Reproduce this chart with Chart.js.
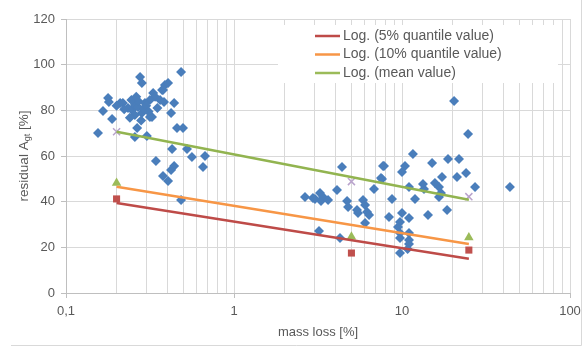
<!DOCTYPE html>
<html>
<head>
<meta charset="utf-8">
<script src="https://cdn.jsdelivr.net/npm/chart.js@4.4.0/dist/chart.umd.min.js"></script>
<style>
  html, body { margin: 0; padding: 0; background: #fff; }
</style>
</head>
<body>
<canvas id="lossChart" width="588" height="349"></canvas>
<script>
// measured samples: mass loss [%] vs residual A_gt [%]
const sampleX = [
    0.276, 0.283, 0.178, 0.180, 0.210, 0.218, 0.166, 0.234, 0.247, 0.257,
    0.268, 0.330, 0.339, 0.316, 0.295, 0.283, 0.257, 0.240, 0.316, 0.188,
    0.265, 0.303, 0.257, 0.155, 0.363, 0.373, 0.484, 0.388, 0.405, 0.378,
    0.383, 0.440, 0.422, 0.325, 0.458, 0.497, 0.428, 0.525, 0.562, 0.672,
    0.343, 0.440, 0.422, 0.654, 0.378, 0.405, 0.484, 0.270, 0.290, 0.300,
    0.245, 0.262, 0.310, 0.280, 0.222, 0.350, 0.200,
    4.394, 4.102, 2.646, 2.951, 3.035, 3.251, 3.388, 3.296, 3.630, 4.710,
    4.775, 5.395, 5.470, 5.862, 6.026, 6.194, 6.367, 6.813, 6.026, 3.206,
    4.275, 7.499, 7.708, 20.41, 24.73, 11.62, 15.10, 18.79, 21.84, 7.814,
    10.42, 10.0, 24.06, 17.30, 21.25, 7.603, 13.33, 15.71, 16.60, 11.01,
    13.52, 17.06, 16.60, 8.716, 11.95, 18.54, 14.28, 10.0, 8.366, 11.01,
    9.727, 9.467, 9.727, 11.01, 9.727, 11.01, 11.01, 10.80, 9.727, 27.21,
    43.9
];
const sampleY = [
    94.6, 92.0, 85.4, 83.7, 83.2, 83.2, 79.7, 81.0, 80.2, 82.3,
    81.5, 87.6, 85.9, 84.5, 83.2, 78.8, 78.0, 76.7, 77.1, 76.2,
    72.3, 68.8, 68.3, 70.1, 84.5, 88.9, 96.8, 91.1, 92.0, 88.9,
    83.7, 83.2, 78.8, 77.1, 72.3, 72.3, 63.1, 63.1, 59.6, 60.0,
    57.8, 55.6, 53.9, 55.2, 51.2, 49.1, 40.7, 84.0, 80.5, 82.0,
    84.5, 86.0, 79.5, 75.5, 80.5, 81.0, 82.0,
    55.2, 45.1, 42.0, 41.6, 41.2, 43.8, 42.0, 40.3, 40.7, 40.3,
    37.7, 36.4, 35.0, 40.7, 38.5, 35.5, 34.2, 45.6, 30.7, 27.2,
    24.1, 50.4, 55.6, 84.1, 69.6, 60.9, 56.9, 58.7, 58.7, 55.6,
    55.6, 53.0, 52.6, 50.8, 50.8, 49.9, 47.7, 48.2, 46.4, 46.4,
    45.6, 43.8, 42.0, 41.2, 41.2, 36.4, 34.2, 35.0, 33.3, 32.9,
    31.1, 28.9, 26.3, 26.3, 24.1, 23.2, 21.5, 19.3, 17.5, 46.4,
    46.4
];

// quantile and mean values at the three mass loss levels
const levelX = [0.2, 5, 25];
const q5Values = [41.2, 17.5, 18.8];
const q10Values = [48.2, 24.6, 24.3];
const meanValues = [70.6, 48.8, 42.2];

// logarithmic trend lines, read at both ends
const trendX = [0.2, 25];
const trend5 = [39.4, 15.0];
const trend10 = [46.5, 21.5];
const trendMean = [70.6, 40.8];

const legendLabels = ['Log. (5% quantile value)', 'Log. (10% quantile value)', 'Log. (mean value)'];
const legendColors = ['#be4b48', '#f79646', '#9bbb59'];

const xMajorTicks = [0.1, 1, 10, 100];
const xMajorLabels = ['0,1', '1', '10', '100'];
const yTicks = [0, 20, 40, 60, 80, 100, 120];

const FONT = '"Liberation Sans", Arial, sans-serif';
const TEXT = '#595959';
const GRID = '#d9d9d9';

function pairs(xs, ys) {
    return xs.map((x, i) => ({ x: x, y: ys[i] }));
}

function isMajor(v) {
    return xMajorTicks.findIndex(t => Math.abs(t - v) < 1e-9);
}

// legend box sitting inside the plot, white behind it
const innerLegend = {
    id: 'innerLegend',
    beforeDatasetsDraw(chart) {
        const c = chart.ctx;
        c.save();
        c.fillStyle = '#fff';
        c.fillRect(278, 25, 280, 58);
        c.font = '14px ' + FONT;
        c.textBaseline = 'middle';
        legendLabels.forEach((lbl, i) => {
            const y = 36 + i * 18.5;
            c.strokeStyle = legendColors[i];
            c.lineWidth = 2.5;
            c.beginPath();
            c.moveTo(315, y);
            c.lineTo(340, y);
            c.stroke();
            c.fillStyle = TEXT;
            c.fillText(lbl, 343, y);
        });
        c.restore();
    },
    afterDraw(chart) {
        const c = chart.ctx;
        c.save();
        // y axis title with subscript
        c.translate(24, 156);
        c.rotate(-Math.PI / 2);
        c.fillStyle = TEXT;
        c.textBaseline = 'middle';
        const big = '13.5px ' + FONT, small = '9px ' + FONT;
        c.font = big;
        const w1 = c.measureText('residual A').width;
        const w3 = c.measureText(' [%]').width;
        c.font = small;
        const w2 = c.measureText('gt').width;
        let x = -(w1 + w2 + w3) / 2;
        c.font = big;
        c.fillText('residual A', x, 0);
        x += w1;
        c.font = small;
        c.fillText('gt', x, 4);
        x += w2;
        c.font = big;
        c.fillText(' [%]', x, 0);
        c.restore();

        // outer frame of the picture
        c.save();
        c.strokeStyle = GRID;
        c.lineWidth = 1;
        c.beginPath();
        c.moveTo(581.5, 0);
        c.lineTo(581.5, 345.5);
        c.lineTo(11, 345.5);
        c.stroke();
        c.restore();
    }
};

const ctx = document.getElementById('lossChart').getContext('2d');
new Chart(ctx, {
    type: 'scatter',
    data: {
        datasets: [
            { type: 'line', label: legendLabels[2], data: pairs(trendX, trendMean), borderColor: '#92b450', borderWidth: 2.5, pointRadius: 0 },
            { type: 'line', label: legendLabels[1], data: pairs(trendX, trend10), borderColor: '#f79646', borderWidth: 2.5, pointRadius: 0 },
            { type: 'line', label: legendLabels[0], data: pairs(trendX, trend5), borderColor: '#be4b48', borderWidth: 2.5, pointRadius: 0 },
            { label: 'mean value', data: pairs(levelX, meanValues), pointStyle: 'crossRot', pointRadius: 5, borderColor: '#b9a3cc', borderWidth: 1.5 },
            { label: '10% quantile value', data: pairs(levelX, q10Values), pointStyle: 'triangle', pointRadius: 5.5, backgroundColor: '#9bbb59', borderColor: '#9bbb59', borderWidth: 0 },
            { label: '5% quantile value', data: pairs(levelX, q5Values), pointStyle: 'rect', pointRadius: 5, backgroundColor: '#c0504d', borderColor: '#c0504d', borderWidth: 0 },
            { label: 'residual', data: pairs(sampleX, sampleY), pointStyle: 'rectRot', pointRadius: 5, backgroundColor: '#4a7ebb', borderColor: '#4a7ebb', borderWidth: 0 }
        ]
    },
    options: {
        responsive: false,
        animation: false,
        devicePixelRatio: 1,
        layout: { padding: { top: 19, right: 18, left: 0, bottom: 0 } },
        plugins: {
            legend: { display: false },
            tooltip: { enabled: false }
        },
        scales: {
            x: {
                type: 'logarithmic',
                min: 0.1,
                max: 100,
                afterBuildTicks(scale) {
                    const t = [];
                    [0.1, 1, 10].forEach(d => {
                        for (let k = 1; k <= 9; k++) t.push({ value: +(k * d).toPrecision(6) });
                    });
                    t.push({ value: 100 });
                    scale.ticks = t;
                },
                afterFit(scale) { scale.height = 56; },
                grid: {
                    color: GRID,
                    tickLength: 5,
                    tickColor: c => isMajor(c.tick.value) >= 0 ? '#bfbfbf' : 'rgba(0,0,0,0)'
                },
                border: { color: '#bfbfbf' },
                ticks: {
                    autoSkip: false,
                    maxRotation: 0,
                    padding: 6,
                    color: TEXT,
                    font: { family: FONT, size: 13 },
                    callback: v => { const i = isMajor(v); return i >= 0 ? xMajorLabels[i] : ''; }
                },
                title: {
                    display: true,
                    text: 'mass loss [%]',
                    color: TEXT,
                    font: { family: FONT, size: 13 },
                    padding: { top: 2, bottom: 9 }
                }
            },
            y: {
                min: 0,
                max: 120,
                afterBuildTicks(scale) { scale.ticks = yTicks.map(v => ({ value: v })); },
                afterFit(scale) { scale.width = 66; },
                grid: { color: GRID, tickLength: 5, tickColor: '#bfbfbf' },
                border: { color: '#bfbfbf' },
                ticks: {
                    padding: 6,
                    color: TEXT,
                    font: { family: FONT, size: 13 }
                }
            }
        }
    },
    plugins: [innerLegend]
});
</script>
</body>
</html>
